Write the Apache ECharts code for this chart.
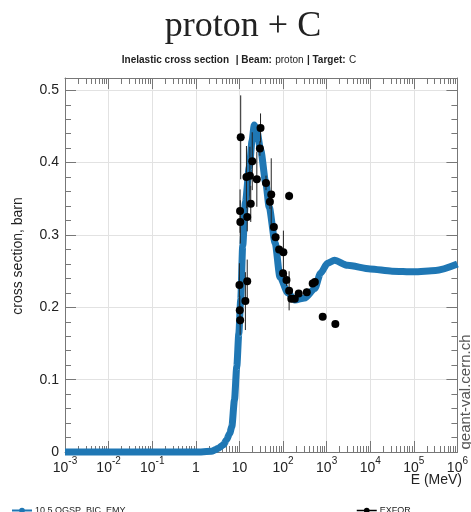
<!DOCTYPE html>
<html><head><meta charset="utf-8">
<script src="https://cdn.jsdelivr.net/npm/echarts@6/dist/echarts.min.js"></script>
<style>html,body{margin:0;padding:0;background:#fff}#c{width:471px;height:512px}</style>
</head><body><div id="c"></div>
<script>
const curveName = '10.5 QGSP_BIC_EMY';
const exforName = 'EXFOR';
// Geant4 model curve: energy (MeV) and cross section (barn)
const curveE = [0.001, 0.01, 0.1, 1, 2.3, 2.8, 3.2, 4.3, 5.1, 6.0, 6.7, 7.7, 8.7, 9.7, 10.7, 11.9, 13.7, 16.9, 19.5, 21.9, 25, 30.8, 40.5, 48, 66, 85, 129, 186, 316, 537, 724, 1047, 1514, 3020, 10000, 31623, 100000, 316228, 1000000];
const curveV = [0, 0, 0, 0, 0.001, 0.003, 0.005, 0.010, 0.017, 0.026, 0.035, 0.072, 0.118, 0.164, 0.21, 0.285, 0.345, 0.394, 0.43, 0.452, 0.445, 0.417, 0.371, 0.339, 0.289, 0.242, 0.22, 0.21, 0.213, 0.226, 0.247, 0.261, 0.265, 0.258, 0.253, 0.250, 0.249, 0.251, 0.260];
// EXFOR measurements
const exforE = [10.7, 10.35, 10.5, 14.5, 17.4, 19.7, 18.2, 15.1, 25.1, 30.5, 29.5, 40.7, 53.7, 50.1, 138, 61.7, 67.6, 81.3, 102, 100, 120, 138, 155, 186, 229, 351, 479, 537, 813, 1585, 10.0, 10.2, 10.4, 15.1, 13.7];
const exforV = [0.435, 0.333, 0.318, 0.380, 0.382, 0.402, 0.343, 0.325, 0.377, 0.448, 0.4195, 0.372, 0.356, 0.346, 0.354, 0.311, 0.297, 0.280, 0.276, 0.247, 0.2376, 0.2228, 0.212, 0.212, 0.219, 0.221, 0.233, 0.235, 0.187, 0.177, 0.231, 0.196, 0.182, 0.236, 0.2086];
const exforErr = [0.058, 0.03, 0.03, 0.043, 0.04, 0.04, 0.025, 0.02, 0.038, 0.02, 0.01, 0.01, 0.05, 0.01, 0.006, 0.005, 0.005, 0.005, 0.03, 0.005, 0.008, 0.027, 0.005, 0.005, 0.005, 0.005, 0.005, 0.005, 0.003, 0.003, 0.03, 0.02, 0.02, 0.03, 0.04];
// axes
const xMin = 0.001, xMax = 1e6;
const xDecMin = -3, xDecMax = 6;
const yMin = 0, yMax = 0.517, yStep = 0.1;
const xMinorTicks = [];
for (let k = xDecMin; k < xDecMax; k++) for (let m = 2; m <= 9; m++) xMinorTicks.push(k + Math.log10(m));

const SANS = 'Liberation Sans, Arial, sans-serif';
const NARROW = 'Liberation Sans Narrow, Liberation Sans, Arial, sans-serif';
const axisGray = '#777';
const gridGray = '#e2e2e2';
const blue = '#1f77b4';

const chart = echarts.init(document.getElementById('c'), null, {renderer: 'canvas'});

function xLabel(v) {
  const e = Math.round(Math.log10(v));
  if (e === 0) return '{b|1}';
  if (e === 1) return '{b|10}';
  return '{b|10}{s|' + e + '}';
}

const decX = {type: 'value', min: xDecMin, max: xDecMax, interval: 1, gridIndex: 0, splitLine: {show: false}, axisLabel: {show: false}};
const curveData = curveE.map((e, i) => [e, curveV[i]]);
const exforData = exforE.map((e, i) => [e, exforV[i]]);
const errData = exforE.map((e, i) => [e, exforV[i], exforErr[i]]);

chart.setOption({
  animation: false,
  backgroundColor: '#fff',
  grid: {left: 65, right: 10, top: 78, bottom: 60, containLabel: false},
  xAxis: [
    {
      type: 'log', logBase: 10, min: xMin, max: xMax, splitNumber: 10, position: 'bottom',
      axisLine: {show: true, onZero: false, lineStyle: {color: axisGray}},
      axisTick: {show: true, inside: true, length: 11, lineStyle: {color: axisGray}},
      splitLine: {show: true, lineStyle: {color: gridGray}},
      axisLabel: {
        margin: 4, formatter: xLabel,
        rich: {
          b: {fontSize: 14, fontFamily: SANS, color: '#222', padding: [5, 0, 0, 0], verticalAlign: 'bottom'},
          s: {fontSize: 10, fontFamily: SANS, color: '#222', verticalAlign: 'top'}
        }
      }
    },
    Object.assign({}, decX, {
      position: 'bottom', axisLine: {show: false, onZero: false},
      axisTick: {show: true, inside: true, length: 6, customValues: xMinorTicks, lineStyle: {color: axisGray}}
    }),
    Object.assign({}, decX, {
      position: 'top', axisLine: {show: true, onZero: false, lineStyle: {color: axisGray}},
      axisTick: {show: true, inside: true, length: 11, lineStyle: {color: axisGray}}
    }),
    Object.assign({}, decX, {
      position: 'top', axisLine: {show: false, onZero: false},
      axisTick: {show: true, inside: true, length: 6, customValues: xMinorTicks, lineStyle: {color: axisGray}}
    })
  ],
  yAxis: [
    {
      type: 'value', min: yMin, max: yMax, interval: yStep, position: 'left',
      axisLine: {show: true, onZero: false, lineStyle: {color: axisGray}},
      axisTick: {show: true, inside: true, length: 11, lineStyle: {color: axisGray}},
      minorTick: {show: true, splitNumber: 5, length: 6, lineStyle: {color: axisGray}},
      splitLine: {show: true, lineStyle: {color: gridGray}},
      axisLabel: {margin: 6, fontSize: 14, fontFamily: SANS, color: '#222', showMaxLabel: false}
    },
    {
      type: 'value', min: yMin, max: yMax, interval: yStep, position: 'right',
      axisLine: {show: true, onZero: false, lineStyle: {color: axisGray}},
      axisTick: {show: true, inside: true, length: 11, lineStyle: {color: axisGray}},
      minorTick: {show: true, splitNumber: 5, length: 6, lineStyle: {color: axisGray}},
      splitLine: {show: false}, axisLabel: {show: false}
    }
  ],
  legend: [
    {
      data: [curveName], left: 6, top: 501, itemWidth: 20, itemHeight: 7, itemGap: 4,
      textStyle: {fontSize: 9, fontFamily: NARROW, color: '#222', padding: [0, 0, 0, -2]}
    },
    {
      data: [exforName], left: 351, top: 501, itemWidth: 20, itemHeight: 7,
      lineStyle: {color: '#000', width: 1.5, opacity: 1},
      textStyle: {fontSize: 9, fontFamily: NARROW, color: '#222', padding: [0, 0, 0, -2]}
    }
  ],
  graphic: [
    {type: 'text', x: 243, y: 27, style: {text: 'proton + C', font: '36px "Liberation Serif", "DejaVu Serif", serif', fill: '#222', textAlign: 'center', textVerticalAlign: 'middle'}},
    {type: 'text', x: 239, y: 60, style: {
      text: '{b|Inelastic cross section}  {b|| Beam:} {n|proton} {b|| Target:} {n|C}',
      textAlign: 'center', textVerticalAlign: 'middle',
      rich: {
        b: {fontSize: 10, fontWeight: 'bold', fontFamily: NARROW, fill: '#222'},
        n: {fontSize: 10, fontFamily: NARROW, fill: '#222'}
      }
    }},
    {type: 'text', x: 18, y: 256, rotation: Math.PI / 2, style: {text: 'cross section, barn', font: '14px "Liberation Sans", Arial, sans-serif', fill: '#222', textAlign: 'center', textVerticalAlign: 'middle'}},
    {type: 'text', x: 462, y: 480, style: {text: 'E (MeV)', font: '14px "Liberation Sans", Arial, sans-serif', fill: '#222', textAlign: 'right', textVerticalAlign: 'middle'}},
    {type: 'text', x: 466, y: 392, rotation: Math.PI / 2, style: {text: 'geant-val.cern.ch', font: '15px "Liberation Sans", Arial, sans-serif', fill: '#555', textAlign: 'center', textVerticalAlign: 'middle'}}
  ],
  series: [
    {
      name: curveName, type: 'line', data: curveData, xAxisIndex: 0, yAxisIndex: 0,
      smooth: 0.25, smoothMonotone: 'x', clip: false,
      symbol: 'circle', symbolSize: 6, showSymbol: false,
      lineStyle: {color: blue, width: 7}, itemStyle: {color: blue}, z: 3
    },
    {
      name: exforName + '_err', type: 'custom', xAxisIndex: 0, yAxisIndex: 0, data: errData, z: 4,
      renderItem: function (params, api) {
        const x = api.value(0), y = api.value(1), e = api.value(2);
        const p1 = api.coord([x, y - e]);
        const p2 = api.coord([x, y + e]);
        return {type: 'line', shape: {x1: p1[0], y1: p1[1], x2: p2[0], y2: p2[1]}, style: {stroke: '#222', lineWidth: 1}};
      }
    },
    {
      name: exforName, type: 'line', data: exforData, xAxisIndex: 0, yAxisIndex: 0,
      symbol: 'circle', symbolSize: 8, showSymbol: true,
      lineStyle: {width: 0, color: '#000'}, itemStyle: {color: '#000'}, z: 5
    }
  ]
});
</script></body></html>
